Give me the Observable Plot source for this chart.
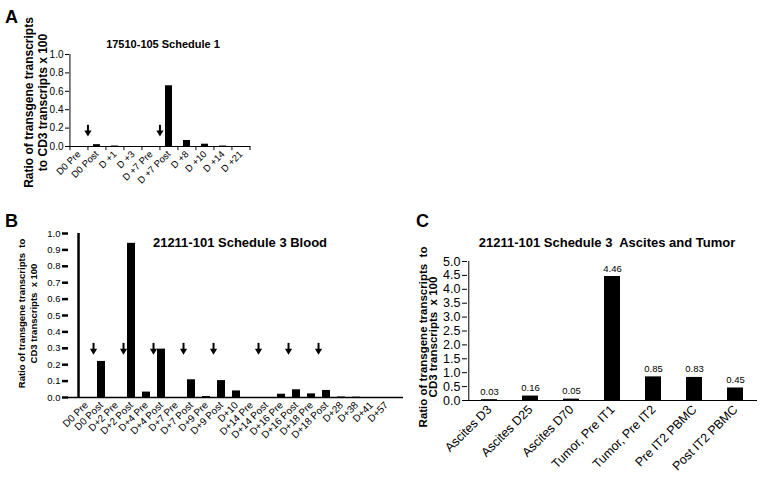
<!DOCTYPE html>
<html><head><meta charset="utf-8">
<script src="https://cdn.jsdelivr.net/npm/d3@7"></script>
<script src="https://cdn.jsdelivr.net/npm/@observablehq/plot@0.6"></script>
<style>
body{margin:0;background:#fff;font-family:"Liberation Sans",Arial,sans-serif;}
#root{position:relative;width:762px;height:479px;overflow:hidden;background:#fff;}
.abs{position:absolute;line-height:1;white-space:pre;color:#000;}
svg{overflow:visible;}
</style></head>
<body><div id="root"></div>
<script>
// ---------- data ----------
const catsA = ["D0 Pre","D0 Post","D +1","D +3","D +7 Pre","D +7 Post","D +8","D +10","D +14","D +21"];
const valsA = [0,0.02,0.005,0,0,0.66,0.065,0.025,0.005,0];
const arrowsA = ["D0 Post","D +7 Post"];
const ticksA = [0,0.2,0.4,0.6,0.8,1.0];

const catsB = ["D0 Pre","D0 Post","D+2 Pre","D+2 Post","D+4 Pre","D+4 Post","D+7 Pre","D+7 Post","D+9 Pre","D+9 Post","D+10","D+14 Pre","D+14 Post","D+16 Pre","D+16 Post","D+18 Pre","D+18 Post","D+28","D+38","D+41","D+57"];
const valsB = [0,0.22,0,0.94,0.033,0.295,0,0.108,0.006,0.103,0.04,0,0,0.02,0.047,0.022,0.043,0.003,0.002,0,0];
const arrowsB = ["D0 Post","D+2 Post","D+4 Post","D+7 Post","D+9 Post","D+14 Post","D+16 Post","D+18 Post"];
const ticksB = [0,0.1,0.2,0.3,0.4,0.5,0.6,0.7,0.8,0.9,1.0];

const catsC = ["Ascites D3","Ascites D25","Ascites D70","Tumor, Pre IT1","Tumor, Pre IT2","Pre IT2 PBMC","Post IT2 PBMC"];
const valsC = [0.03,0.16,0.05,4.46,0.85,0.83,0.45];
const labelsC = ["0.03","0.16","0.05","4.46","0.85","0.83","0.45"];
const ticksC = [0,0.5,1.0,1.5,2.0,2.5,3.0,3.5,4.0,4.5,5.0];

const titleA = "17510-105 Schedule 1";
const titleB = "21211-101 Schedule 3 Blood";
const titleC = "21211-101 Schedule 3  Ascites and Tumor";
const ylabA = "Ratio of transgene transcripts\nto CD3 transcripts x 100";
const ylabBC = "Ratio of transgene transcripts  to\nCD3 transcripts  x 100";

// ---------- helpers ----------
const FONT = "'Liberation Sans', Arial, sans-serif";
const root = document.getElementById("root");
function place(node, left, top) {
  node.style.position = "absolute";
  node.style.left = left + "px";
  node.style.top = top + "px";
  root.appendChild(node);
}
function label(text, left, top, size, bold, center, width) {
  const d = document.createElement("div");
  d.className = "abs";
  d.textContent = text;
  d.style.fontSize = size + "px";
  d.style.fontWeight = bold ? "bold" : "normal";
  if (center) { d.style.width = width + "px"; d.style.textAlign = "center"; }
  d.style.left = left + "px";
  d.style.top = top + "px";
  root.appendChild(d);
}
const downTri = {
  draw(ctx, size) {
    ctx.moveTo(0, 3);
    ctx.lineTo(3.6, -3);
    ctx.lineTo(-3.6, -3);
    ctx.closePath();
  }
};
function arrowMarks(cats, step, yTop, yMid, yTip) {
  return [
    Plot.ruleX(cats, {x: d => d, dx: -step / 2, y1: () => yTop, y2: () => yMid, stroke: "black", strokeWidth: 2}),
    Plot.dot(cats, {x: d => d, dx: -step / 2, y: () => yTip, dy: -3, symbol: downTri, fill: "black", stroke: "none", r: 3})
  ];
}
function ylab(text, dx, dy, size, lh) {
  return Plot.text([text], {frameAnchor: "left", textAnchor: "middle", lineAnchor: "middle", text: d => d, rotate: -90, dx, dy, fontSize: size, fontWeight: "bold", lineHeight: lh, fill: "black"});
}

// ---------- Panel A ----------
{
  const W = 260, H = 230, mL = 69, mR = 10, mT = 54, mB = 84;
  const step = (W - mL - mR) / catsA.length;
  const data = catsA.map((c, i) => ({cat: c, v: valsA[i]}));
  const p = Plot.plot({
    width: W, height: H, marginLeft: mL, marginRight: mR, marginTop: mT, marginBottom: mB,
    style: {fontFamily: FONT, background: "transparent", overflow: "visible", color: "black"},
    x: {domain: catsA, paddingInner: 0.6, paddingOuter: 0.3},
    y: {domain: [0, 1]},
    marks: [
      Plot.barY(data, {x: "cat", y: "v", fill: "black"}),
      Plot.ruleY([0], {stroke: "black", strokeWidth: 1}),
      Plot.ruleX([catsA[0]], {x: d => d, dx: -step / 2, y1: () => 0, y2: () => 1, stroke: "black", strokeWidth: 1}),
      Plot.ruleX(catsA, {x: d => d, dx: -step / 2, y1: () => 0, y2: () => -0.045, stroke: "black", strokeWidth: 1}),
      Plot.ruleX([catsA[catsA.length - 1]], {x: d => d, dx: step / 2, y1: () => 0, y2: () => -0.045, stroke: "black", strokeWidth: 1}),
      Plot.axisY({ticks: ticksA, tickFormat: d3.format(".1f"), tickSize: 4, tickPadding: 2, fontSize: 10, label: null}),
      Plot.axisX({tickSize: 0, tickRotate: -45, tickPadding: 6, fontSize: 9.5, label: null}),
      ...arrowMarks(arrowsA, step, 0.23, 0.15, 0.11),
      ylab(ylabA, -34, 2, 12, 1.2)
    ]
  });
  place(p, 0, 0);
}

// ---------- Panel B ----------
{
  const W = 410, H = 260, mL = 68, mR = 7, mT = 13, mB = 83;
  const step = (W - mL - mR) / catsB.length;
  const data = catsB.map((c, i) => ({cat: c, v: valsB[i]}));
  const p = Plot.plot({
    width: W, height: H, marginLeft: mL, marginRight: mR, marginTop: mT, marginBottom: mB,
    style: {fontFamily: FONT, background: "transparent", overflow: "visible", color: "black"},
    x: {domain: catsB, paddingInner: 0.5, paddingOuter: 0.25},
    y: {domain: [0, 1]},
    marks: [
      Plot.barY(data, {x: "cat", y: "v", fill: "black"}),
      Plot.ruleY([0], {stroke: "black", strokeWidth: 1.5}),
      Plot.ruleX([catsB[0]], {x: d => d, dx: -step / 2, y1: () => 0, y2: () => 1, stroke: "black", strokeWidth: 2.5}),
      Plot.axisY({ticks: ticksB, tickFormat: d3.format(".1f"), tickSize: 6, tickPadding: 2, strokeWidth: 2.5, fontSize: 9.5, label: null}),
      Plot.axisX({tickSize: 0, tickRotate: -45, tickPadding: 6, fontSize: 10, label: null}),
      ...arrowMarks(arrowsB, step, 0.33, 0.29, 0.26),
      ylab(ylabBC, -41, -2, 9.5, 1.25)
    ]
  });
  place(p, 0, 220);
}

// ---------- Panel C ----------
{
  const W = 372, H = 259, mL = 77, mR = 5, mT = 41, mB = 79;
  const data = catsC.map((c, i) => ({cat: c, v: valsC[i], lab: labelsC[i]}));
  const p = Plot.plot({
    width: W, height: H, marginLeft: mL, marginRight: mR, marginTop: mT, marginBottom: mB,
    style: {fontFamily: FONT, background: "transparent", overflow: "visible", color: "black"},
    x: {domain: catsC, paddingInner: 0.6, paddingOuter: 0.3},
    y: {domain: [0, 5]},
    marks: [
      Plot.barY(data, {x: "cat", y: "v", fill: "black"}),
      Plot.ruleY([0], {stroke: "black", strokeWidth: 1}),
      Plot.ruleX([catsC[0]], {x: d => d, dx: -((W - mL - mR) / catsC.length) / 2, y1: () => 0, y2: () => 5, stroke: "black", strokeWidth: 1}),
      Plot.text(data, {x: "cat", y: "v", text: "lab", dy: -8, fontSize: 9.5, fill: "black"}),
      Plot.axisY({ticks: ticksC, tickFormat: d3.format(".1f"), tickSize: 5, tickPadding: 2, fontSize: 12.5, label: null}),
      Plot.axisX({tickSize: 0, tickRotate: -45, tickPadding: 7, fontSize: 12.5, label: null}),
      ylab(ylabBC, -39, 6, 11.5, 0.9)
    ]
  });
  place(p, 390, 220);
}

// ---------- titles & panel letters ----------
label("A", 5, 8, 18, true, false);
label("B", 5, 212, 18, true, false);
label("C", 416, 212, 18, true, false);
label(titleA, 63, 38.7, 11, true, true, 200);
label(titleB, 140, 236, 13, true, true, 200);
label(titleC, 457, 236, 13, true, true, 300);
</script>
</body></html>
